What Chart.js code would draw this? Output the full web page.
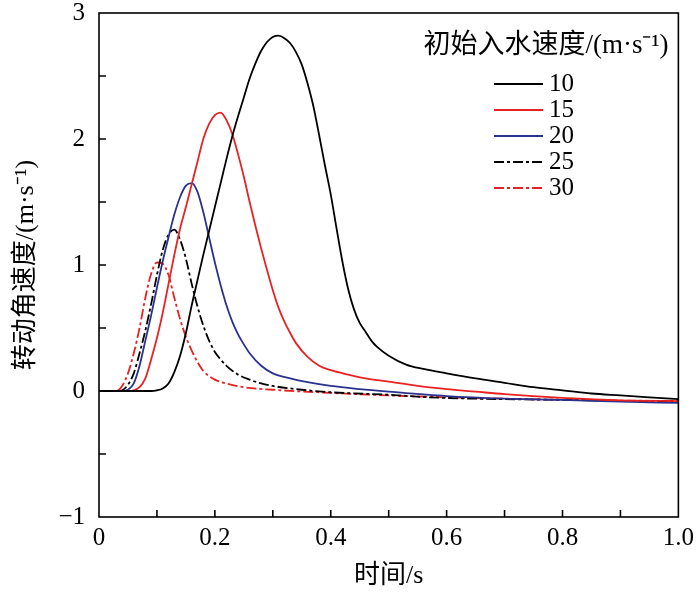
<!DOCTYPE html>
<html>
<head>
<meta charset="utf-8">
<script src="https://cdn.jsdelivr.net/npm/chart.js@4.4.0/dist/chart.umd.min.js"></script>
<style>
  html, body { margin: 0; padding: 0; background: #fff; }
  #chart { display: block; }
</style>
</head>
<body>
<canvas id="chart" width="700" height="592"></canvas>
<script>
const t10 = [0, 0.09, 0.10, 0.11, 0.12, 0.13, 0.14, 0.15, 0.16, 0.17, 0.18, 0.19, 0.20, 0.21, 0.22, 0.23, 0.24, 0.25, 0.26, 0.27, 0.28, 0.29, 0.30, 0.31, 0.32, 0.33, 0.34, 0.35, 0.36, 0.37, 0.38, 0.39, 0.40, 0.41, 0.42, 0.43, 0.44, 0.45, 0.46, 0.47, 0.48, 0.50, 0.53, 0.56, 0.60, 0.65, 0.70, 0.75, 0.80, 0.85, 0.90, 0.95, 1.00];
const v10 = [0, 0, 0.005, 0.02, 0.06, 0.15, 0.28, 0.46, 0.68, 0.88, 1.08, 1.27, 1.46, 1.65, 1.84, 2.02, 2.18, 2.33, 2.48, 2.60, 2.70, 2.77, 2.81, 2.82, 2.80, 2.76, 2.69, 2.59, 2.44, 2.26, 2.03, 1.79, 1.56, 1.29, 1.03, 0.81, 0.65, 0.54, 0.47, 0.40, 0.35, 0.28, 0.21, 0.175, 0.14, 0.10, 0.065, 0.03, 0.005, -0.02, -0.035, -0.05, -0.065];

const t15 = [0, 0.05, 0.06, 0.07, 0.08, 0.09, 0.10, 0.11, 0.12, 0.13, 0.14, 0.15, 0.16, 0.17, 0.18, 0.19, 0.20, 0.21, 0.22, 0.23, 0.24, 0.25, 0.26, 0.27, 0.28, 0.29, 0.30, 0.31, 0.32, 0.33, 0.34, 0.36, 0.38, 0.40, 0.43, 0.46, 0.50, 0.55, 0.60, 0.65, 0.70, 0.80, 0.90, 1.00];
const v15 = [0, 0, 0.005, 0.03, 0.10, 0.25, 0.42, 0.62, 0.85, 1.08, 1.29, 1.46, 1.64, 1.82, 2.00, 2.12, 2.19, 2.21, 2.15, 2.04, 1.88, 1.70, 1.50, 1.31, 1.13, 0.96, 0.80, 0.66, 0.55, 0.46, 0.38, 0.27, 0.20, 0.165, 0.13, 0.10, 0.075, 0.04, 0.015, -0.005, -0.025, -0.055, -0.075, -0.08];

const t20 = [0, 0.04, 0.05, 0.06, 0.07, 0.08, 0.09, 0.10, 0.11, 0.12, 0.13, 0.14, 0.15, 0.16, 0.17, 0.18, 0.19, 0.20, 0.21, 0.22, 0.23, 0.24, 0.25, 0.26, 0.28, 0.30, 0.33, 0.36, 0.40, 0.45, 0.50, 0.60, 0.70, 0.80, 0.90, 1.00];
const v20 = [0, 0, 0.01, 0.06, 0.20, 0.40, 0.60, 0.82, 1.03, 1.22, 1.40, 1.54, 1.63, 1.65, 1.58, 1.42, 1.22, 1.02, 0.84, 0.68, 0.55, 0.45, 0.37, 0.30, 0.20, 0.14, 0.10, 0.07, 0.04, 0.015, -0.005, -0.04, -0.06, -0.07, -0.085, -0.095];

const t25 = [0, 0.035, 0.04, 0.05, 0.06, 0.07, 0.08, 0.09, 0.10, 0.11, 0.12, 0.13, 0.14, 0.15, 0.16, 0.17, 0.18, 0.19, 0.20, 0.21, 0.22, 0.24, 0.26, 0.28, 0.30, 0.35, 0.40, 0.50, 0.57, 0.70, 0.80, 0.90, 1.00];
const v25 = [0, 0, 0.005, 0.05, 0.14, 0.30, 0.48, 0.69, 0.92, 1.12, 1.24, 1.28, 1.20, 1.05, 0.85, 0.67, 0.52, 0.40, 0.31, 0.25, 0.20, 0.13, 0.09, 0.06, 0.04, 0.01, -0.01, -0.03, -0.05, -0.065, -0.07, -0.078, -0.08];

const t30 = [0, 0.03, 0.04, 0.05, 0.06, 0.07, 0.08, 0.09, 0.10, 0.11, 0.12, 0.13, 0.14, 0.15, 0.16, 0.17, 0.18, 0.20, 0.22, 0.25, 0.30, 0.40, 0.50, 0.60, 0.80, 1.00];
const v30 = [0, 0, 0.04, 0.14, 0.30, 0.50, 0.74, 0.93, 1.02, 1.01, 0.92, 0.74, 0.57, 0.43, 0.32, 0.23, 0.16, 0.09, 0.06, 0.03, 0.01, -0.015, -0.035, -0.05, -0.07, -0.08];

const speedLabels = ['10', '15', '20', '25', '30'];
const legendTitle = '初始入水速度/(m·s⁻¹)';
const xTitle = '时间/s';
const yTitle = '转动角速度/(m·s⁻¹)';

const RED = 'rgb(232,34,34)';
const BLUE = 'rgb(42,50,142)';
const DASHDOT = [10, 3, 3, 3];

const serif = '"Liberation Serif", "Times New Roman", "Noto Sans CJK SC", serif';

function toPoints(ts, vs) {
    return ts.map((t, i) => ({ x: t, y: vs[i] }));
}

const series = [
    { t: t10, v: v10, color: '#000', dash: [] },
    { t: t15, v: v15, color: RED, dash: [] },
    { t: t20, v: v20, color: BLUE, dash: [] },
    { t: t25, v: v25, color: '#000', dash: DASHDOT },
    { t: t30, v: v30, color: RED, dash: DASHDOT }
];

const datasets = series.map((s, i) => ({
    label: speedLabels[i],
    data: toPoints(s.t, s.v),
    borderColor: s.color,
    borderDash: s.dash,
    borderWidth: 1.8,
    pointRadius: 0,
    fill: false,
    cubicInterpolationMode: 'monotone'
}));

// frame + inward ticks, like the original plot
const framePlugin = {
    id: 'frame',
    afterDraw(chart) {
        const ctx = chart.ctx;
        const a = chart.chartArea;
        const xs = chart.scales.x;
        const ys = chart.scales.y;
        ctx.save();
        ctx.strokeStyle = '#000';
        ctx.lineWidth = 1.6;
        ctx.setLineDash([]);
        ctx.strokeRect(a.left, a.top, a.right - a.left, a.bottom - a.top);
        ctx.beginPath();
        xs.ticks.forEach(tk => {
            const px = xs.getPixelForValue(tk.value);
            if (px <= a.left + 1 || px >= a.right - 1) return;
            ctx.moveTo(px, a.bottom);
            ctx.lineTo(px, a.bottom - 7);
        });
        ys.ticks.forEach(tk => {
            const py = ys.getPixelForValue(tk.value);
            if (py <= a.top + 1 || py >= a.bottom - 1) return;
            ctx.moveTo(a.left, py);
            ctx.lineTo(a.left + 7, py);
        });
        ctx.stroke();
        ctx.restore();
    }
};

// legend block in the upper right corner
const legendPlugin = {
    id: 'speedLegend',
    afterDraw(chart) {
        const ctx = chart.ctx;
        ctx.save();
        ctx.fillStyle = '#000';
        ctx.textBaseline = 'middle';
        ctx.textAlign = 'center';
        ctx.font = '27px ' + serif;
        ctx.fillText(legendTitle, 546, 46);
        ctx.textAlign = 'left';
        ctx.font = '25px ' + serif;
        chart.data.datasets.forEach((ds, i) => {
            const y = 84 + i * 26;
            ctx.beginPath();
            ctx.strokeStyle = ds.borderColor;
            ctx.lineWidth = 1.8;
            ctx.setLineDash(ds.borderDash);
            ctx.moveTo(494, y);
            ctx.lineTo(543, y);
            ctx.stroke();
            ctx.fillText(ds.label, 549, y);
        });
        ctx.restore();
    }
};

const ctx = document.getElementById('chart').getContext('2d');
new Chart(ctx, {
    type: 'line',
    data: { datasets: datasets },
    options: {
        responsive: false,
        animation: false,
        layout: { padding: { top: 0, right: 20, left: 0, bottom: 0 } },
        plugins: {
            legend: { display: false },
            tooltip: { enabled: false }
        },
        scales: {
            x: {
                type: 'linear',
                min: 0,
                max: 1,
                grid: { display: false, drawTicks: false },
                border: { display: false },
                afterFit(scale) { scale.height = 75; },
                ticks: {
                    stepSize: 0.1,
                    autoSkip: false,
                    maxRotation: 0,
                    padding: 6,
                    color: '#000',
                    font: { family: serif, size: 25 },
                    callback(value) {
                        const k = Math.round(value * 10);
                        if (k % 2 !== 0) return '';
                        if (k === 0) return '0';
                        return (k / 10).toFixed(1);
                    }
                },
                title: {
                    display: true,
                    text: xTitle,
                    color: '#000',
                    font: { family: serif, size: 26 },
                    padding: { top: 0, bottom: 0 }
                }
            },
            y: {
                type: 'linear',
                min: -1,
                max: 3,
                grid: { display: false, drawTicks: false },
                border: { display: false },
                afterFit(scale) {
                    scale.width = 99;
                    scale.paddingTop = 13;
                    scale.paddingBottom = 13;
                },
                ticks: {
                    stepSize: 0.5,
                    autoSkip: false,
                    padding: 14,
                    color: '#000',
                    font: { family: serif, size: 25, lineHeight: 1.0 },
                    callback(value) {
                        if (!Number.isInteger(value)) return '';
                        return value < 0 ? '\u2212' + Math.abs(value) : String(value);
                    }
                },
                title: {
                    display: true,
                    text: yTitle,
                    color: '#000',
                    font: { family: serif, size: 26 },
                    padding: { top: 11, bottom: 0 }
                }
            }
        }
    },
    plugins: [framePlugin, legendPlugin]
});
</script>
</body>
</html>
